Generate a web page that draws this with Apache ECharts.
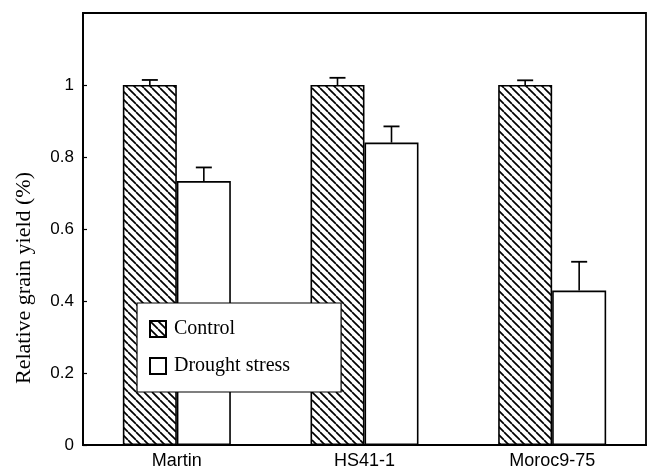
<!DOCTYPE html>
<html>
<head>
<meta charset="utf-8">
<script src="https://cdn.jsdelivr.net/npm/echarts@6/dist/echarts.min.js"></script>
<style>html,body{margin:0;padding:0;background:#fff;}#c{width:647px;height:472px;}</style>
</head>
<body>
<div id="c"></div>
<script>
var categories = ['Martin', 'HS41-1', 'Moroc9-75'];
var seriesNames = ['Control', 'Drought stress'];
var controlValues = [1.0, 1.0, 1.0];
var controlErrors = [0.014, 0.02, 0.013];
var droughtValues = [0.733, 0.84, 0.429];
var droughtErrors = [0.038, 0.045, 0.08];
var yTickValues = [0, 0.2, 0.4, 0.6, 0.8, 1.0];
var yTickLabels = ['0', '0.2', '0.4', '0.6', '0.8', '1'];
var yAxisTitle = 'Relative grain yield (%)';

var BAR_W = 54;

function makeHatch() {
  var c = document.createElement('canvas');
  c.width = 8; c.height = 8;
  var g = c.getContext('2d');
  g.fillStyle = '#fff';
  g.fillRect(0, 0, 8, 8);
  g.strokeStyle = '#000';
  g.lineWidth = 1.7;
  [-8, 0, 8].forEach(function (k) {
    g.beginPath();
    g.moveTo(k, 0);
    g.lineTo(k + 8, 8);
    g.stroke();
  });
  return c;
}
var hatch = { image: makeHatch(), repeat: 'repeat' };

function errSeries(values, errors, offset) {
  return {
    type: 'custom',
    silent: true,
    z: 3,
    data: values.map(function (v, i) { return [i, v, v + errors[i]]; }),
    renderItem: function (params, api) {
      var lo = api.coord([api.value(0), api.value(1)]);
      var hi = api.coord([api.value(0), api.value(2)]);
      var x = lo[0] + offset;
      return {
        type: 'group',
        children: [
          { type: 'line', shape: { x1: x, y1: lo[1], x2: x, y2: hi[1] }, style: { stroke: '#000', lineWidth: 1.6 } },
          { type: 'line', shape: { x1: x - 8, y1: hi[1], x2: x + 8, y2: hi[1] }, style: { stroke: '#000', lineWidth: 1.8 } }
        ]
      };
    }
  };
}

var chart = echarts.init(document.getElementById('c'), null, { renderer: 'canvas' });
chart.setOption({
  backgroundColor: '#fff',
  animation: false,
  grid: {
    left: 83, right: 1, top: 13, bottom: 27,
    show: true, borderColor: '#000', borderWidth: 1.8, backgroundColor: 'transparent'
  },
  legend: {
    orient: 'vertical',
    left: 137, top: 303,
    padding: [16, 51, 16, 12],
    itemGap: 17,
    itemWidth: 16, itemHeight: 16,
    backgroundColor: '#fff',
    borderColor: '#000', borderWidth: 1.2,
    icon: 'rect',
    textStyle: { fontFamily: 'Liberation Serif', fontSize: 20, color: '#000', padding: [0, 0, 0, 3] },
    data: seriesNames
  },
  xAxis: {
    type: 'category',
    data: categories,
    axisLine: { lineStyle: { color: '#000', width: 1.8 } },
    axisTick: { show: false },
    axisLabel: { fontFamily: 'Liberation Sans', fontSize: 18, color: '#000', margin: 7 }
  },
  yAxis: {
    type: 'value',
    min: 0, max: 1.2, interval: 0.2,
    splitLine: { show: false },
    axisLine: { show: true, lineStyle: { color: '#000', width: 1.8 } },
    axisTick: {
      show: true, inside: true, length: 4, lineStyle: { color: '#000', width: 1.2 },
      customValues: yTickValues
    },
    axisLabel: {
      fontFamily: 'Liberation Sans', fontSize: 17, color: '#000', margin: 9,
      customValues: yTickValues,
      formatter: function (v) {
        for (var i = 0; i < yTickValues.length; i++) {
          if (Math.abs(yTickValues[i] - v) < 1e-6) return yTickLabels[i];
        }
        return '';
      }
    }
  },
  graphic: [{
    type: 'text',
    x: 24, y: 278,
    rotation: Math.PI / 2,
    style: {
      text: yAxisTitle,
      fontFamily: 'Liberation Serif', fontSize: 22, fill: '#000',
      align: 'center', verticalAlign: 'middle'
    }
  }],
  series: [
    {
      name: seriesNames[0], type: 'bar', data: controlValues,
      barWidth: BAR_W, barGap: '0%',
      itemStyle: { color: hatch, borderColor: '#000', borderWidth: 1.6 }
    },
    {
      name: seriesNames[1], type: 'bar', data: droughtValues,
      barWidth: BAR_W, barGap: '0%',
      itemStyle: { color: '#fff', borderColor: '#000', borderWidth: 1.6 }
    },
    errSeries(controlValues, controlErrors, -BAR_W / 2),
    errSeries(droughtValues, droughtErrors, BAR_W / 2)
  ]
});
</script>
</body>
</html>
